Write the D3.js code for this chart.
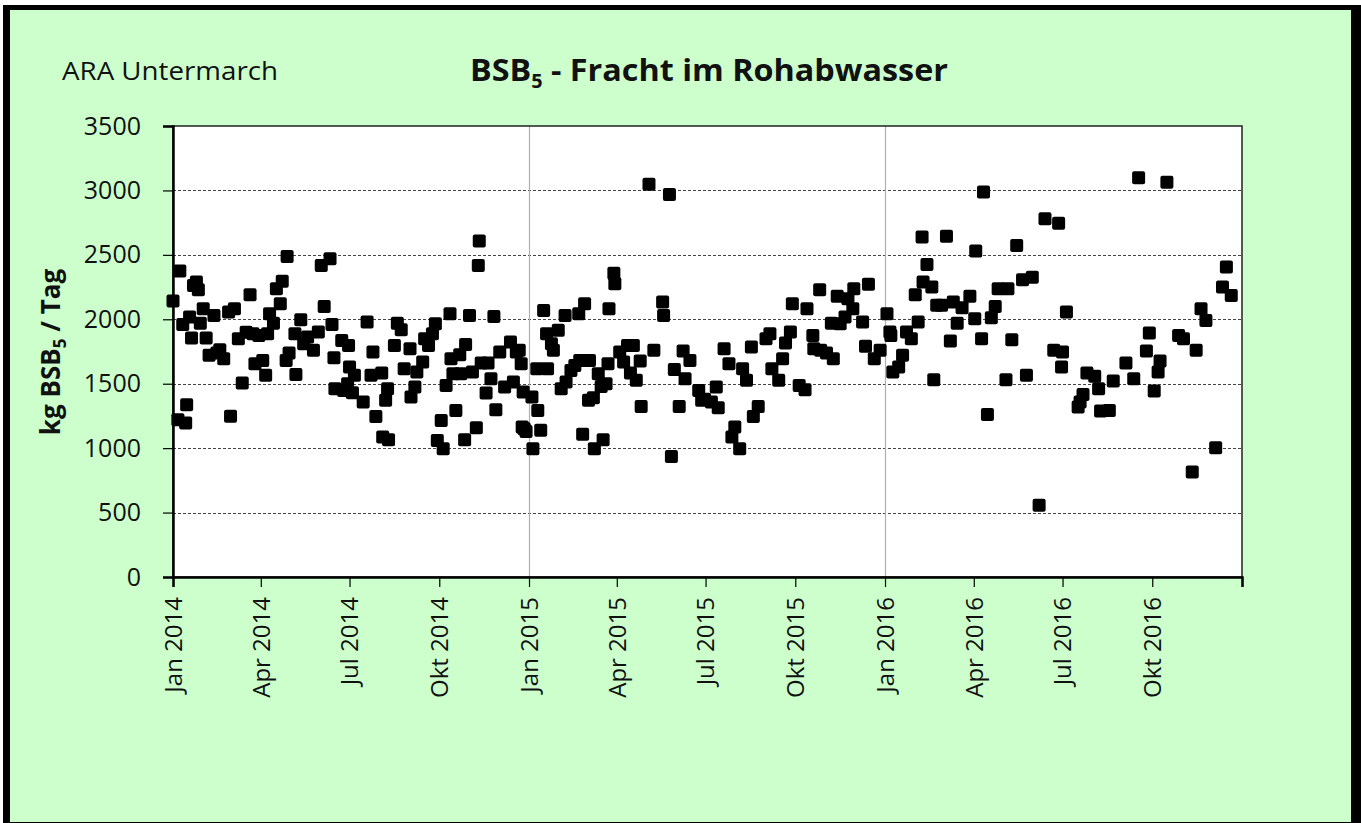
<!DOCTYPE html>
<html><head><meta charset="utf-8">
<script src="https://cdn.jsdelivr.net/npm/d3@7"></script>
<style>
html,body{margin:0;padding:0;background:#fff;}
svg{display:block;font-family:"Open Sans",sans-serif;}
</style></head>
<body><svg id="c" width="1361" height="823"></svg>
<script>
const dates2014 = ["01-01","01-06","01-08","01-11","01-14","01-15","01-18","01-20","01-22","01-25","01-27","01-29","02-01","02-04","02-07","02-12","02-15","02-18","02-22","02-27","03-01","03-05","03-09","03-13","03-17","03-21","03-24","03-26","03-30","04-03","04-06","04-08","04-10","04-14","04-17","04-21","04-23","04-27","04-28","04-30","05-06","05-07","05-12","05-15","05-19","05-25","05-30","06-02","06-05","06-11","06-13","06-15","06-16","06-23","06-25","06-29","06-30","07-01","07-04","07-06","07-15","07-19","07-23","07-25","07-28","08-03","08-04","08-07","08-09","08-10","08-16","08-19","08-23","08-26","09-01","09-02","09-06","09-08","09-14","09-16","09-20","09-24","09-27","09-29","10-03","10-05","10-08","10-12","10-13","10-15","10-18","10-22","10-23","10-27","10-28","11-01","11-04","11-08","11-10","11-11","11-13","11-18","11-20","11-23","11-26","11-28","12-02","12-07","12-13","12-16","12-19","12-22","12-24","12-25","12-26","12-27","12-29"];
const values2014 = [2141,1221,2374,1960,1195,1337,2017,1854,2263,2289,2229,1970,2082,1854,1720,2030,1738,1764,1694,2056,1247,2082,1849,1505,1900,2190,1888,1655,1875,1681,1565,1888,2043,1970,2237,2120,2296,1681,2488,1738,1888,1572,1996,1810,1862,1759,1901,2418,2100,2470,1960,1702,1461,1836,1448,1500,1797,1629,1430,1565,1358,1978,1565,1746,1246,1583,1086,1371,1461,1065,1797,1970,1919,1616,1772,1396,1474,1590,1668,1849,1797,1888,1965,1060,1215,996,1487,2043,1694,1578,1293,1725,1578,1065,1805,2030,1590,1159,2418,2607,1660,1427,1660,1539,2022,1298,1746,1474,1823,1513,1746,1759,1655,1164,1435,1150,1130];

const dates2015 = ["01-04","01-05","01-09","01-10","01-13","01-16","01-19","01-20","01-24","01-26","01-31","02-03","02-07","02-08","02-13","02-17","02-21","02-22","02-25","02-27","03-03","03-04","03-08","03-09","03-13","03-16","03-18","03-21","03-23","03-24","03-29","03-30","04-04","04-08","04-12","04-15","04-18","04-21","04-25","04-26","05-04","05-09","05-18","05-19","05-25","05-27","05-30","06-04","06-08","06-10","06-15","06-24","06-27","06-30","07-07","07-12","07-14","07-20","07-25","07-28","07-31","08-05","08-08","08-12","08-17","08-19","08-24","09-01","09-05","09-07","09-14","09-18","09-21","09-26","09-28","10-05","10-11","10-13","10-19","10-20","10-26","10-27","11-02","11-07","11-09","11-13","11-16","11-21","11-24","11-29","11-30","12-09","12-12","12-15","12-21","12-27"];
const values2015 = [1397,996,1616,1293,1138,2069,1888,1616,1810,1759,1914,1461,2030,1513,1603,1642,2043,1681,1107,2120,1371,1681,1391,996,1578,1479,1065,1500,1655,2082,2358,2276,1746,1668,1797,1583,1797,1526,1676,1324,3047,1759,2134,2030,2969,936,1611,1324,1753,1539,1681,1448,1371,1380,1358,1474,1314,1772,1655,1086,1164,996,1616,1526,1784,1246,1324,1849,1888,1616,1526,1694,1815,1901,2120,1487,1453,2082,1875,1772,2229,1759,1738,1970,1694,2178,1965,2017,2160,2082,2237,1978,1790,2271,1694,1759];

const dates2016 = ["01-03","01-06","01-07","01-09","01-15","01-19","01-23","01-28","02-01","02-04","02-08","02-09","02-13","02-18","02-20","02-23","02-28","03-04","03-08","03-11","03-15","03-20","03-28","04-02","04-03","04-09","04-11","04-15","04-19","04-23","04-26","05-04","05-06","05-10","05-15","05-21","05-25","05-31","06-07","06-13","06-22","06-27","06-30","07-01","07-05","07-17","07-19","07-22","07-26","08-03","08-07","08-09","08-18","08-22","09-04","09-12","09-17","09-25","09-28","10-03","10-07","10-09","10-16","10-28","11-02","11-11","11-15","11-20","11-25","12-05","12-12","12-16","12-21"];
const values2016 = [2043,1901,1875,1590,1629,1720,1901,1849,2190,1978,2638,2289,2426,2250,1531,2108,2108,2645,1831,2134,1970,2090,2178,2004,2529,1849,2987,1262,2012,2100,2237,1531,2237,1841,2573,2307,1565,2327,556,2780,1759,2746,1629,1746,2056,1319,1358,1417,1583,1557,1461,1288,1293,1521,1660,1539,3098,1753,1893,1443,1590,1676,3064,1875,1849,815,1759,2082,1991,1003,2250,2405,2185];

const tickDates = ["2014-01-01","2014-04-01","2014-07-01","2014-10-01","2015-01-01","2015-04-01","2015-07-01","2015-10-01","2016-01-01","2016-04-01","2016-07-01","2016-10-01","2017-01-01"];
const tickLabels = ["Jan 2014","Apr 2014","Jul 2014","Okt 2014","Jan 2015","Apr 2015","Jul 2015","Okt 2015","Jan 2016","Apr 2016","Jul 2016","Okt 2016",""];
const yTicks = [0,500,1000,1500,2000,2500,3000,3500];
const yearGrid = ["2015-01-01","2016-01-01"];

const parse = d3.timeParse("%Y-%m-%d");
const points = [];
[[2014,dates2014,values2014],[2015,dates2015,values2015],[2016,dates2016,values2016]].forEach(([yr,ds,vs])=>{
  ds.forEach((d,i)=>points.push({date:parse(yr+"-"+d), value:vs[i]}));
});

const svg = d3.select("#c");
// frame
svg.append("rect").attr("x",3).attr("y",5).attr("width",1358).attr("height",830).attr("fill","#000");
svg.append("rect").attr("x",10).attr("y",10).attr("width",1341).attr("height",812).attr("fill","#ccffcc");

const L=173,R=1242,T=126,B=577;
const x = d3.scaleTime().domain([parse("2014-01-01"),parse("2017-01-01")]).range([L,R]);
const y = d3.scaleLinear().domain([0,3500]).range([B,T]);

svg.append("rect").attr("x",L).attr("y",T).attr("width",R-L).attr("height",B-T).attr("fill","#fff");

// horizontal dashed grid
svg.append("g").selectAll("line").data(yTicks.filter(v=>v>0&&v<3500)).join("line")
  .attr("x1",L).attr("x2",R).attr("y1",d=>Math.round(y(d))+0.5).attr("y2",d=>Math.round(y(d))+0.5)
  .attr("stroke","#444").attr("stroke-width",1).attr("stroke-dasharray","3,2");
// vertical year grid
svg.append("g").selectAll("line").data(yearGrid).join("line")
  .attr("x1",d=>Math.round(x(parse(d)))+0.5).attr("x2",d=>Math.round(x(parse(d)))+0.5).attr("y1",T).attr("y2",B)
  .attr("stroke","#b0b0b0").attr("stroke-width",1.2);

// plot border
svg.append("rect").attr("x",L).attr("y",T).attr("width",R-L).attr("height",B-T)
  .attr("fill","none").attr("stroke","#222").attr("stroke-width",1.5);

// y axis
const yAxis = d3.axisLeft(y).tickValues(yTicks).tickSize(10).tickFormat(d3.format("d"));
const gy = svg.append("g").attr("transform",`translate(${L},0)`).call(yAxis);
gy.select(".domain").attr("stroke","#000").attr("stroke-width",2.5);
gy.selectAll(".tick line").attr("stroke","#000").attr("stroke-width",1.2);
gy.selectAll(".tick text").attr("font-size",25).attr("font-family","Open Sans").attr("fill","#111").attr("x",-32);

// x axis
const xAxis = d3.axisBottom(x).tickValues(tickDates.map(parse)).tickSize(10)
  .tickFormat((d,i)=>tickLabels[i]);
const gx = svg.append("g").attr("transform",`translate(0,${B})`).call(xAxis);
gx.select(".domain").attr("stroke","#000").attr("stroke-width",2.5);
gx.selectAll(".tick line").attr("stroke","#000").attr("stroke-width",1.2);
gx.selectAll(".tick text").attr("font-size",24).attr("font-family","Open Sans").attr("fill","#111")
  .attr("transform","rotate(-90)").attr("text-anchor","end").attr("x",-20).attr("y",0).attr("dy","0.35em");

// points
const S=13;
svg.append("g").selectAll("rect").data(points).join("rect")
  .attr("x",d=>x(d.date)-S/2).attr("y",d=>y(d.value)-S/2).attr("width",S).attr("height",S)
  .attr("rx",2).attr("fill","#000");

// texts
svg.append("text").attr("x",62).attr("y",80).attr("font-size",25).attr("fill","#111")
  .attr("textLength",216).attr("lengthAdjust","spacingAndGlyphs").text("ARA Untermarch");

const title = svg.append("text").attr("x",470).attr("y",81).attr("font-size",31).attr("font-weight","bold").attr("fill","#111")
  .attr("textLength",478).attr("lengthAdjust","spacingAndGlyphs");
title.append("tspan").text("BSB");
title.append("tspan").attr("font-size",19).attr("dy",7).text("5");
title.append("tspan").attr("dy",-7).text(" - Fracht im Rohabwasser");

const yl = svg.append("text").attr("transform","translate(60,352) rotate(-90)").attr("text-anchor","middle")
  .attr("font-size",26).attr("font-weight","bold").attr("fill","#111");
yl.append("tspan").text("kg BSB");
yl.append("tspan").attr("font-size",17).attr("dy",6).text("5");
yl.append("tspan").attr("dy",-6).text(" / Tag");
</script></body></html>
